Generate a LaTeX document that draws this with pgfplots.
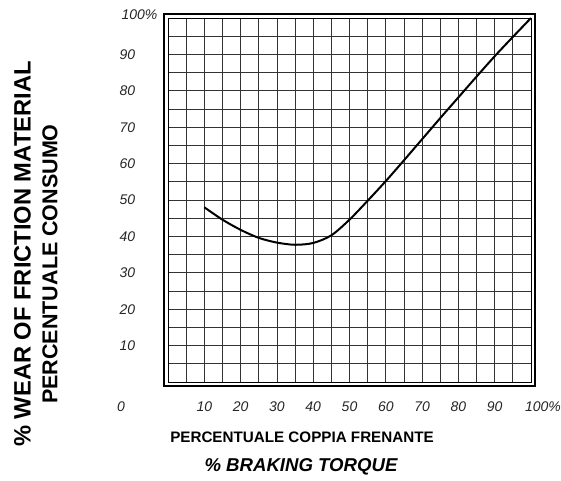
\documentclass[border=0pt]{standalone}
\usepackage{pgfplots}
\pgfplotsset{compat=1.18}
\usepackage{fontspec}
\setmainfont{Liberation Sans}
\begin{document}
\begin{tikzpicture}[x=1pt,y=1pt]
\useasboundingbox (0,0) rectangle (561,480);
\begin{axis}[
  at={(168pt,98pt)}, anchor=south west,
  scale only axis, width=363pt, height=364pt,
  xmin=0, xmax=100, ymin=0, ymax=100,
  xtick={0,5,...,100}, ytick={0,5,...,100},
  xticklabels={}, yticklabels={},
  major tick length=0pt,
  grid=major,
  major grid style={black!80, line width=0.8pt},
  axis line style={black, line width=0.9pt},
  clip=false,
]
\addplot[black, line width=2pt, smooth] coordinates {
(10,48) (15,44.6) (20,41.8) (25,39.6) (30,38.3) (35,37.7) (40,38.2) (45,40.3)
(50,44.6) (55,49.8) (60,55.2) (65,60.9) (70,66.7) (75,72.5) (80,78.2)
(85,83.9) (90,89.5) (95,94.8) (100,100)};
\draw[black, line width=1.1pt] (axis cs:-1.1,-1.1) rectangle (axis cs:101.1,101.1);
\end{axis}
% tick labels
\foreach \k in {10,20,...,90} {
  \node[font=\itshape\fontsize{14}{14}\selectfont, text=black!85] at ({168+3.63*\k},73) {\k};
  \node[font=\itshape\fontsize{14}{14}\selectfont, text=black!85, anchor=west] at (116,{98+3.64*\k}) {\k};
}
\node[font=\itshape\fontsize{14}{14}\selectfont, text=black!85] at (121,73) {0};
\node[font=\itshape\fontsize{14}{14}\selectfont, text=black!85] at (543,73) {100\%};
\node[font=\itshape\fontsize{14}{14}\selectfont, text=black!85, anchor=west] at (118,465) {100\%};
% axis titles
\node[font=\bfseries\fontsize{15.2}{15.2}\selectfont] at (302,43) {PERCENTUALE COPPIA FRENANTE};
\node[font=\bfseries\itshape\fontsize{18.6}{18.6}\selectfont] at (301,13) {\% BRAKING TORQUE};
\node[font=\bfseries\fontsize{23.7}{23.7}\selectfont, rotate=90] at (22.5,226) {\% WEAR OF FRICTION MATERIAL};
\node[font=\bfseries\fontsize{21.5}{21.5}\selectfont, rotate=90] at (50,216) {PERCENTUALE CONSUMO};
\end{tikzpicture}
\end{document}
